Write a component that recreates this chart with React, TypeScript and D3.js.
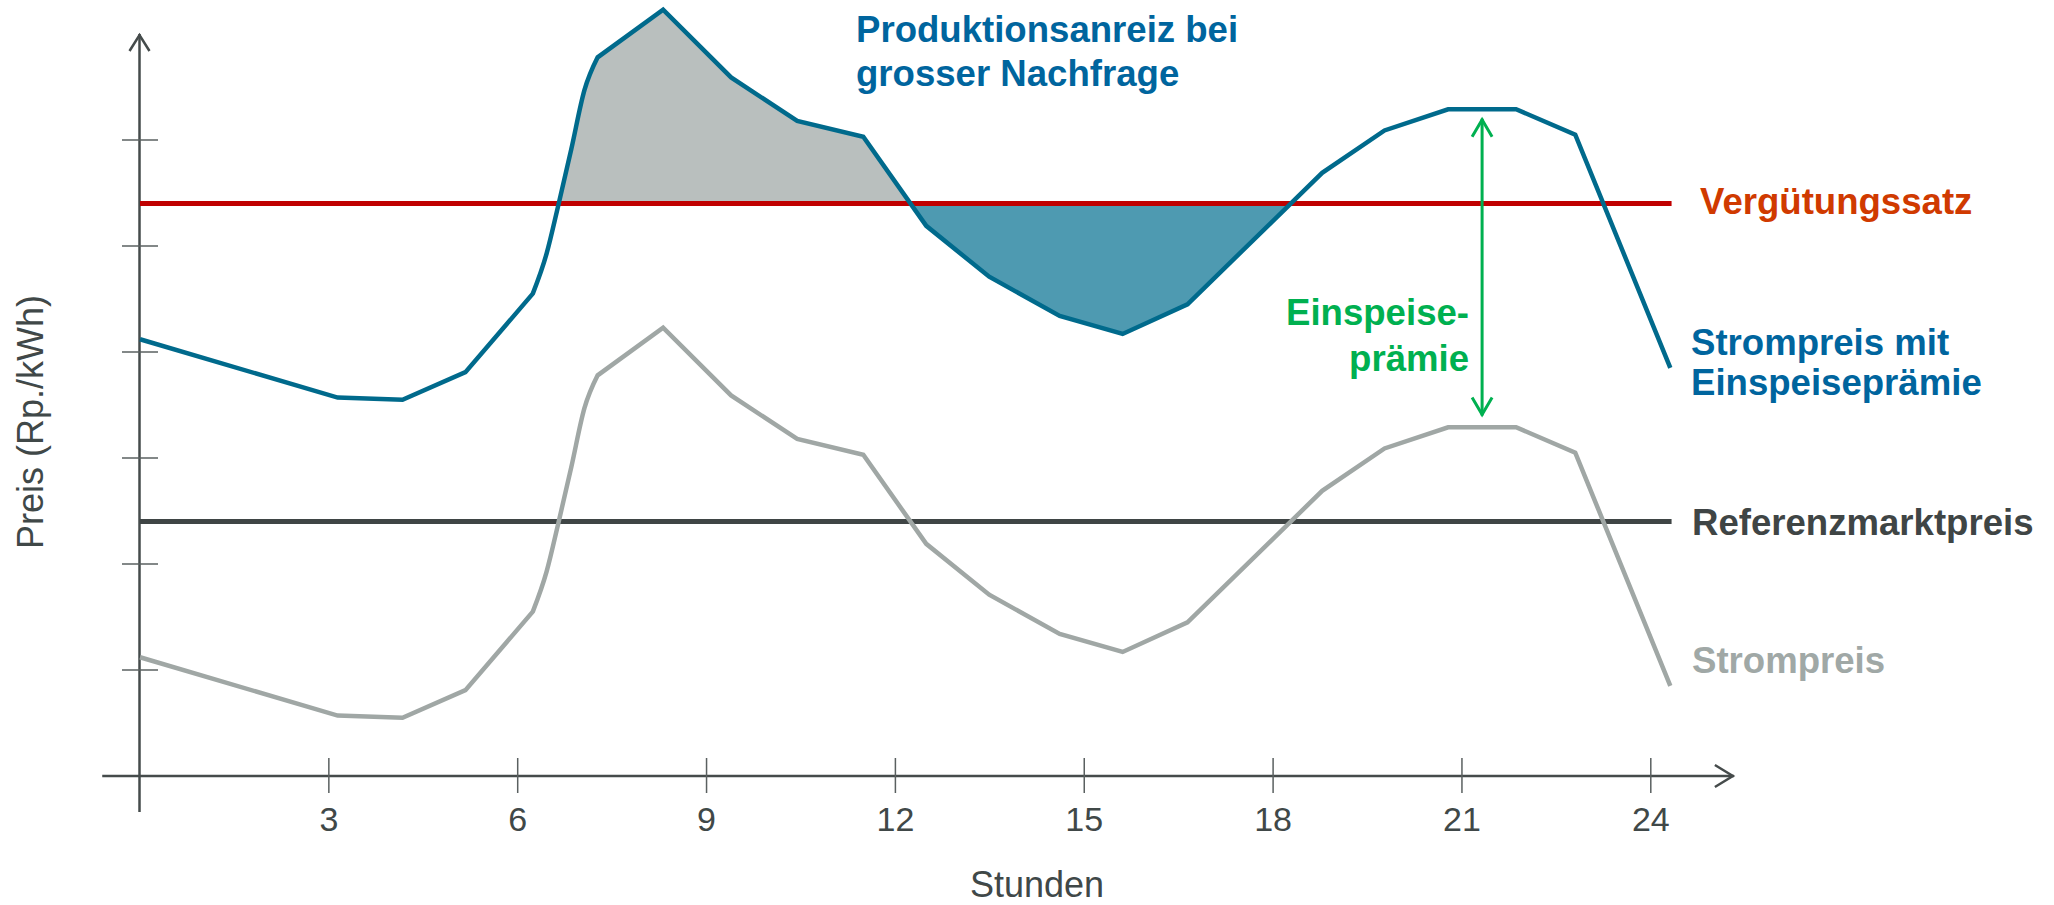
import React from "react";
import * as d3 from "d3";

// ---- data ----
const hours = [0, 3.14, 4.17, 5.17, 6.24, 6.46, 6.64, 6.85, 7.06, 7.27, 8.31, 9.39, 10.44, 11.49, 12.49, 13.49, 14.61, 15.61, 16.64, 18.78, 19.77, 20.78, 21.86, 22.8, 24.31];
const strompreis = [1.12, 0.57, 0.55, 0.81, 1.55, 1.93, 2.37, 2.91, 3.47, 3.78, 4.23, 3.59, 3.18, 3.03, 2.19, 1.71, 1.34, 1.17, 1.45, 2.69, 3.09, 3.29, 3.29, 3.05, 0.85];
const verguetungssatz = 5.4;
const referenzmarktpreis = 2.4;
const xTickValues = [3, 6, 9, 12, 15, 18, 21, 24];
const yTickValues = [1, 2, 3, 4, 5, 6];
const levelLineEnd = 24.33;
const smoothFrom = 6.24; // the morning ramp is drawn as a smooth curve
const smoothTo = 7.27;
const premiumArrowHour = 21.32;
const premiumArrowTop = 6.2;
const premiumArrowBottom = 3.4;
// filled regions between "mit Einspeiseprämie" line and Vergütungssatz, picked by an hour inside them
const fillRegions = [
  { hour: 8.3, color: "#B9BFBE" },
  { hour: 15.6, color: "#4E9AB1" },
];

const W = 2054;
const H = 905;

const x = d3.scaleLinear().domain([0, 24]).range([140, 140 + 24 * 62.95]);
const y = d3.scaleLinear().domain([0, 7]).range([776, 34]);

type P = { h: number; v: number };

const lin = d3.line<P>().x((d) => x(d.h)).y((d) => y(d.v)).curve(d3.curveLinear);
const smooth = d3.line<P>().x((d) => x(d.h)).y((d) => y(d.v)).curve(d3.curveMonotoneX);

function seriesPath(pts: P[]): string {
  const a = pts.filter((p) => p.h <= smoothFrom);
  const b = pts.filter((p) => p.h >= smoothFrom && p.h <= smoothTo);
  const c = pts.filter((p) => p.h >= smoothTo);
  let d = "";
  [
    [a, lin],
    [b, smooth],
    [c, lin],
  ].forEach(([seg, gen]: any) => {
    if (seg.length < 1) return;
    const s = (gen(seg) || "") as string;
    d += d ? s.replace(/^M/, "L") : s;
  });
  return d;
}

export default function App() {
  const premium = verguetungssatz - referenzmarktpreis;
  const gray: P[] = hours.map((h, i) => ({ h, v: strompreis[i] }));
  const blue: P[] = hours.map((h, i) => ({ h, v: strompreis[i] + premium }));

  // split blue series into regions above / below the Vergütungssatz level
  const level = verguetungssatz;
  const segs: { sign: number; pts: P[] }[] = [];
  let cur: { sign: number; pts: P[] } | null = null;
  for (let i = 0; i < blue.length; i++) {
    const p = blue[i];
    const s = p.v >= level ? 1 : -1;
    if (!cur) {
      cur = { sign: s, pts: [{ h: p.h, v: level }, p] };
      continue;
    }
    if (s !== cur.sign) {
      const q = blue[i - 1];
      const t = (level - q.v) / (p.v - q.v);
      const hc = q.h + t * (p.h - q.h);
      cur.pts.push({ h: hc, v: level });
      segs.push(cur);
      cur = { sign: s, pts: [{ h: hc, v: level }, p] };
    } else cur.pts.push(p);
  }
  if (cur) {
    cur.pts.push({ h: blue[blue.length - 1].h, v: level });
    segs.push(cur);
  }
  const fills = fillRegions.map((f) => {
    const seg = segs.find((s) => s.pts[0].h <= f.hour && s.pts[s.pts.length - 1].h >= f.hour);
    return { color: f.color, d: seg ? lin(seg.pts) + "Z" : "" };
  });

  const axisColor = "#454B4B";
  const font = "'Liberation Sans', Arial, Helvetica, sans-serif";
  const x0 = x(0);
  const yAxisTop = y(7);
  const yAxisBottom = y(-0.34);
  const xAxisLeft = x(-0.6);
  const xAxisRight = x(25.32);
  const ax = x(premiumArrowHour);
  const aTop = y(premiumArrowTop);
  const aBot = y(premiumArrowBottom);

  return (
    <div style={{ position: "absolute", left: 0, top: 0 }}>
      <svg width={W} height={H} style={{ display: "block", background: "#fff" }} fontFamily={font}>
        {/* fills */}
        {fills.map((f, i) => (
          <path key={i} d={f.d} fill={f.color} stroke="none" />
        ))}

        {/* axes */}
        <line x1={x0 - 0.5} x2={x0 - 0.5} y1={yAxisBottom} y2={yAxisTop} stroke={axisColor} strokeWidth={2.5} />
        <polyline
          points={`${x0 - 10.5},${yAxisTop + 17} ${x0 - 0.5},${yAxisTop + 1} ${x0 + 9.5},${yAxisTop + 17}`}
          fill="none"
          stroke={axisColor}
          strokeWidth={2.5}
        />
        <line x1={xAxisLeft} x2={xAxisRight} y1={y(0)} y2={y(0)} stroke={axisColor} strokeWidth={2.5} />
        <polyline
          points={`${xAxisRight - 19},${y(0) - 11} ${xAxisRight - 1},${y(0)} ${xAxisRight - 19},${y(0) + 11}`}
          fill="none"
          stroke={axisColor}
          strokeWidth={2.5}
        />
        {yTickValues.map((v) => (
          <line key={v} x1={x0 - 18} x2={x0 + 18} y1={y(v)} y2={y(v)} stroke="#5A6060" strokeWidth={1.6} />
        ))}
        {xTickValues.map((h) => (
          <g key={h}>
            <line x1={x(h)} x2={x(h)} y1={y(0) - 18} y2={y(0) + 17} stroke="#5A6060" strokeWidth={1.5} />
            <text x={x(h)} y={y(0) + 55} textAnchor="middle" fontSize={34} fill="#404848">
              {h}
            </text>
          </g>
        ))}
        <text x={1037} y={897} textAnchor="middle" fontSize={36} fill="#404848">
          Stunden
        </text>
        <text transform={`translate(43,422) rotate(-90)`} textAnchor="middle" fontSize={36} fill="#404848">
          Preis (Rp./kWh)
        </text>

        {/* level lines */}
        <line x1={x0} x2={x(levelLineEnd)} y1={y(verguetungssatz)} y2={y(verguetungssatz)} stroke="#C00000" strokeWidth={5} />
        <line x1={x0} x2={x(levelLineEnd)} y1={y(referenzmarktpreis)} y2={y(referenzmarktpreis)} stroke="#3F4545" strokeWidth={5} />

        {/* price lines */}
        <path d={seriesPath(gray)} fill="none" stroke="#A0A7A5" strokeWidth={4.5} />
        <path d={seriesPath(blue)} fill="none" stroke="#006A8C" strokeWidth={4.5} />

        {/* premium arrow */}
        <line x1={ax} x2={ax} y1={aTop} y2={aBot} stroke="#00B050" strokeWidth={3} />
        <polyline points={`${ax - 10},${aTop + 18} ${ax},${aTop + 1} ${ax + 10},${aTop + 18}`} fill="none" stroke="#00B050" strokeWidth={3} />
        <polyline points={`${ax - 10},${aBot - 18} ${ax},${aBot - 1} ${ax + 10},${aBot - 18}`} fill="none" stroke="#00B050" strokeWidth={3} />

        {/* annotations */}
        <g fontWeight="bold" fontSize={36.6}>
          <text x={856} y={42} fill="#00659E">Produktionsanreiz bei</text>
          <text x={856} y={86} fill="#00659E">grosser Nachfrage</text>
          <text x={1700} y={214} fill="#D03A00">Vergütungssatz</text>
          <text x={1469} y={325} textAnchor="end" fill="#00B050">Einspeise-</text>
          <text x={1469} y={371} textAnchor="end" fill="#00B050">prämie</text>
          <text x={1691} y={355} fill="#00659E">Strompreis mit</text>
          <text x={1691} y={395} fill="#00659E">Einspeiseprämie</text>
          <text x={1692} y={535} fill="#3F4545">Referenzmarktpreis</text>
          <text x={1692} y={673} fill="#A0A8A6">Strompreis</text>
        </g>
      </svg>
    </div>
  );
}
